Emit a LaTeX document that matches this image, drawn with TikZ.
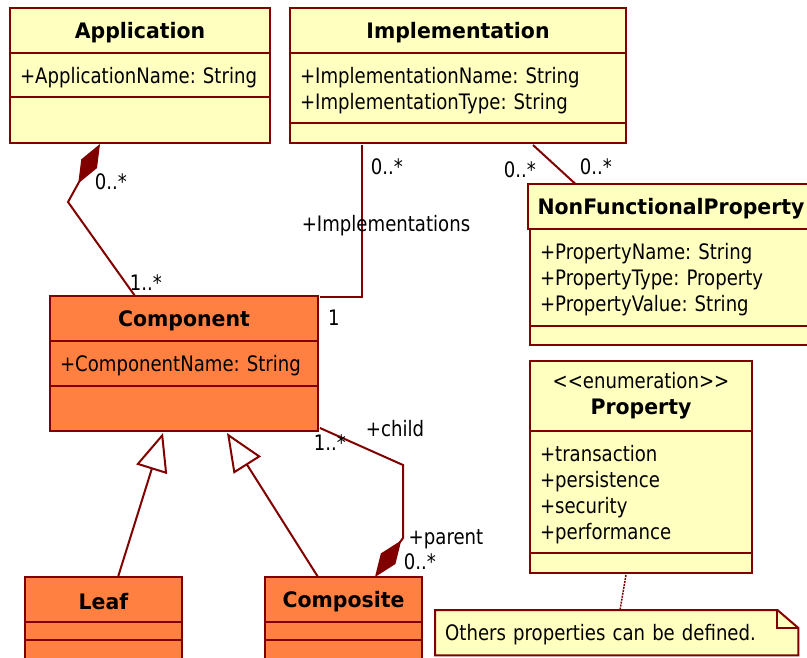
\documentclass[tikz,border=0pt]{standalone}
\usepackage{fontspec}
\setmainfont{DejaVu Sans}[FakeStretch=0.85,BoldFeatures={FakeStretch=0.96}]
\usetikzlibrary{positioning,arrows.meta,backgrounds}
\definecolor{umlborder}{RGB}{128,0,0}
\definecolor{umlyellow}{RGB}{255,255,192}
\definecolor{umlorange}{RGB}{255,128,64}
\tikzset{
    umlpart/.style={draw=umlborder,line width=2pt,outer sep=0pt,inner xsep=10pt,inner ysep=0pt,
        font=\fontsize{21.3}{26}\selectfont},
    classhead/.style={umlpart,fill=#1,font=\fontsize{21.3}{26}\selectfont\bfseries,align=center,minimum height=45pt,
        execute at begin node=\rule{0pt}{21pt}},
    classpart/.style={umlpart,fill=#1,align=left,execute at begin node=\rule{0pt}{21pt}},
    classgap/.style={umlpart,fill=#1},
    umlline/.style={draw=umlborder,line width=2pt},
    mult/.style={inner sep=0pt,text depth=0pt,font=\fontsize{21.3}{26}\selectfont},
    compo/.style={umlline,-{Diamond[length=45pt,width=18pt]}},
    inherit/.style={umlline,-{Triangle[open,length=38pt,width=32pt,fill=white]}}
}
\begin{document}
\frenchspacing
\begin{tikzpicture}[x=1pt,y=-1pt]
    \useasboundingbox (0,0) rectangle (807,657);

    \node[classhead=umlyellow,minimum width=260pt] (app) at (140,30.5) {Application};
    \node[classpart=umlyellow,text width=240pt,minimum height=44pt,below=0pt of app] (appA) {+ApplicationName: String};
    \node[classgap=umlyellow,minimum width=260pt,minimum height=46pt,below=0pt of appA] (appO) {};

    \node[classhead=umlyellow,minimum width=336pt] (impl) at (458,30.5) {Implementation};
    \node[classpart=umlyellow,text width=316pt,minimum height=70pt,below=0pt of impl] (implA) {+ImplementationName: String\\+ImplementationType: String};
    \node[classgap=umlyellow,minimum width=336pt,minimum height=20pt,below=0pt of implA] (implO) {};

    \node[classhead=umlyellow,minimum width=282pt] (nfp) at (671,206.5) {NonFunctionalProperty};
    \node[classpart=umlyellow,text width=262pt,minimum height=97pt,below=0pt of nfp] (nfpA) {+PropertyName: String\\+PropertyType: Property\\+PropertyValue: String};
    \node[classgap=umlyellow,minimum width=282pt,minimum height=19pt,below=0pt of nfpA] (nfpO) {};

    \node[classhead=umlorange,minimum width=268pt] (comp) at (184,318.5) {Component};
    \node[classpart=umlorange,text width=248pt,minimum height=45pt,below=0pt of comp] (compA) {+ComponentName: String};
    \node[classgap=umlorange,minimum width=268pt,minimum height=45pt,below=0pt of compA] (compO) {};

    \node[classhead=umlyellow,minimum width=222pt,minimum height=70pt] (prop) at (641,396) {{\mdseries \textless{}\textless{}enumeration\textgreater{}\textgreater{}}\\Property};
    \node[classpart=umlyellow,text width=202pt,minimum height=122pt,below=0pt of prop] (propA) {+transaction\\+persistence\\+security\\+performance};
    \node[classgap=umlyellow,minimum width=222pt,minimum height=20pt,below=0pt of propA] (propO) {};

    \node[classhead=umlorange,minimum width=157pt] (leaf) at (103.5,599.5) {Leaf};
    \node[classgap=umlorange,minimum width=157pt,minimum height=18pt,below=0pt of leaf] (leafA) {};
    \node[classgap=umlorange,minimum width=157pt,minimum height=40pt,below=0pt of leafA] (leafO) {};

    \node[classhead=umlorange,minimum width=157pt] (compos) at (343.5,599.5) {Composite};
    \node[classgap=umlorange,minimum width=157pt,minimum height=18pt,below=0pt of compos] (composA) {};
    \node[classgap=umlorange,minimum width=157pt,minimum height=40pt,below=0pt of composA] (composO) {};

    \node[mult,anchor=north west,text width=343pt,minimum height=45pt,inner xsep=10pt] (note) at (435,610) {Others properties can be defined.};
    \begin{scope}[on background layer]
        \draw[umlline,fill=umlyellow] (note.north west) -- ([xshift=-21pt]note.north east) -- ([yshift=-18pt]note.north east) -- (note.south east) -- (note.south west) -- cycle;
    \end{scope}
    \draw[umlline] ([xshift=-21pt]note.north east) |- ([yshift=-18pt]note.north east);

    \coordinate (appbend) at (68,202);
    \coordinate (childbend) at (403,465);
    \coordinate (parentbend) at (403,538);

    \draw[compo] ([xshift=85pt]comp.north west) -- (appbend) -- ([xshift=90pt,yshift=-1pt]appO.south west);
    \draw[umlline] ([xshift=72pt,yshift=-2pt]implO.south west) |- ([xshift=2pt,yshift=-1pt]comp.north east);
    \draw[umlline] ([xshift=243pt,yshift=-2pt]implO.south west) -- ([xshift=48pt]nfp.north west);
    \draw[compo] ([xshift=2pt,yshift=3pt]compO.south east) -- (childbend) -- (parentbend) -- ([xshift=110pt]compos.north west);
    \draw[inherit] ([xshift=93pt]leaf.north west) -- ([xshift=113pt,yshift=-2pt]compO.south west);
    \draw[inherit] ([xshift=53pt]compos.north west) -- ([xshift=177pt,yshift=-2pt]compO.south west);
    \draw[umlline,densely dotted,line width=1.5pt] ([xshift=96pt,yshift=-2pt]propO.south west) -- ([xshift=185pt]note.north west);

    \node[mult] (appm) at (111,182) {0..*};
    \node[mult] (compm) at (146,283) {1..*};
    \node[mult] (implm) at (387,167) {0..*};
    \node[mult] (implrole) at (386,223) {+Implementations};
    \node[mult] (compone) at (334,318) {1};
    \node[mult] (nfpm) at (520,170) {0..*};
    \node[mult] (implnm) at (596,167) {0..*};
    \node[mult] (childrole) at (395,428) {+child};
    \node[mult] (childm) at (330,443) {1..*};
    \node[mult] (parentrole) at (446,537) {+parent};
    \node[mult] (parentm) at (420,562) {0..*};
\end{tikzpicture}
\end{document}
